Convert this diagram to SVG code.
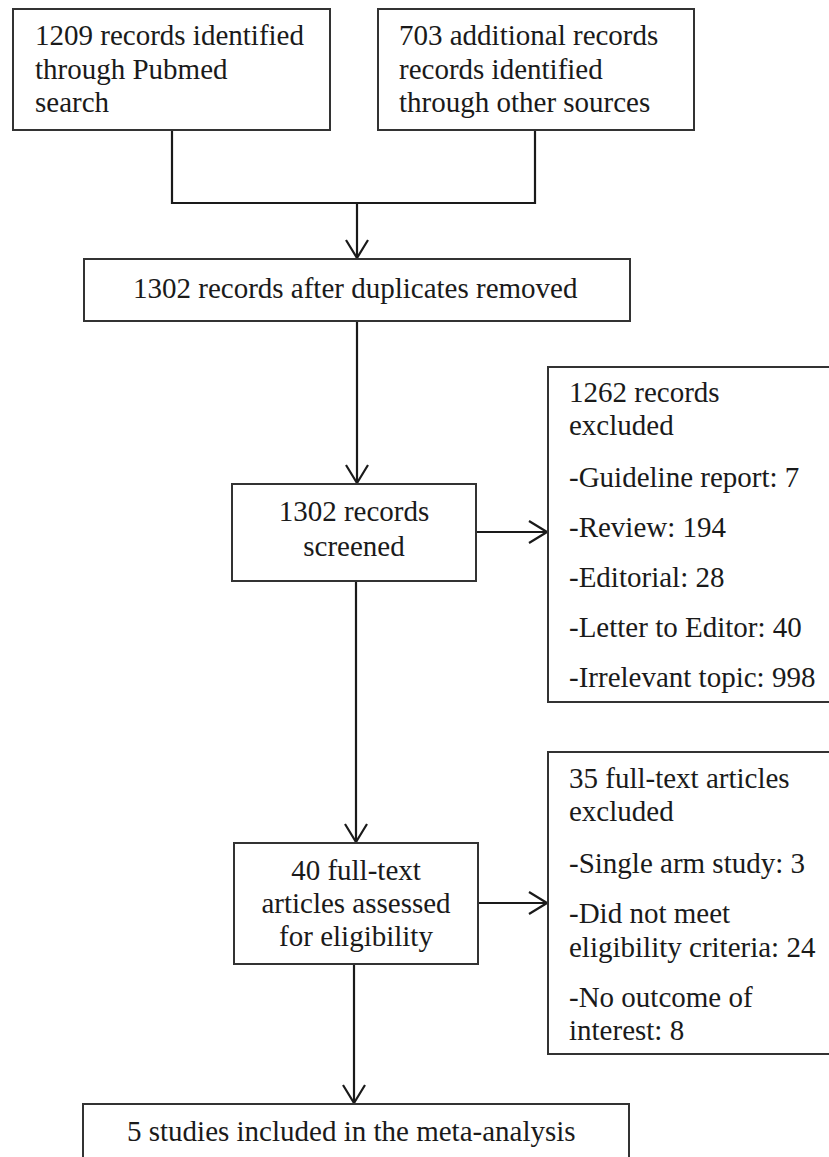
<svg xmlns="http://www.w3.org/2000/svg" width="829" height="1157" viewBox="0 0 829 1157">
<style>
.box{fill:#fff;stroke:#333;stroke-width:2}
.t{font-family:"Liberation Serif","Times New Roman",serif;font-size:29px;fill:#1a1a1a}
.c{text-anchor:middle}
.ln{fill:none;stroke:#1a1a1a;stroke-width:2.2}
</style>
<defs>
<marker id="ah" viewBox="0 0 20 24" refX="19" refY="12" markerWidth="20" markerHeight="24" markerUnits="userSpaceOnUse" orient="auto">
<path d="M1,1 L19,12 L1,23" fill="none" stroke="#1a1a1a" stroke-width="2.2"/>
</marker>
</defs>
<rect width="829" height="1157" fill="#fff"/>
<g id="connectors">
<path class="ln" d="M172,130 V203 H535 V130"/>
<path class="ln" d="M357,203 V258" marker-end="url(#ah)"/>
<path class="ln" d="M357,321 V483" marker-end="url(#ah)"/>
<path class="ln" d="M476,532 H547" marker-end="url(#ah)"/>
<path class="ln" d="M356,581 V842" marker-end="url(#ah)"/>
<path class="ln" d="M478,903 H547" marker-end="url(#ah)"/>
<path class="ln" d="M354,964 V1103" marker-end="url(#ah)"/>
</g>
<g id="pubmed">
<rect class="box" x="13" y="9" width="317" height="121"/>
<text class="t" x="35" y="45">1209 records identified</text>
<text class="t" x="35" y="79">through Pubmed</text>
<text class="t" x="35" y="112">search</text>
</g>
<g id="other">
<rect class="box" x="378" y="9" width="316" height="121"/>
<text class="t" x="399" y="45">703 additional records</text>
<text class="t" x="399" y="79">records identified</text>
<text class="t" x="399" y="112">through other sources</text>
</g>
<g id="dedup">
<rect class="box" x="84" y="259" width="546" height="62"/>
<text class="t" x="133" y="298">1302 records after duplicates removed</text>
</g>
<g id="screened">
<rect class="box" x="232" y="484" width="244" height="97"/>
<text class="t c" x="354" y="521">1302 records</text>
<text class="t c" x="354" y="556">screened</text>
</g>
<g id="excluded1">
<rect class="box" x="548" y="367" width="290" height="335"/>
<text class="t" x="569" y="402">1262 records</text>
<text class="t" x="569" y="435">excluded</text>
<text class="t" x="569" y="487">-Guideline report: 7</text>
<text class="t" x="569" y="537">-Review: 194</text>
<text class="t" x="569" y="587">-Editorial: 28</text>
<text class="t" x="569" y="637">-Letter to Editor: 40</text>
<text class="t" x="569" y="687">-Irrelevant topic: 998</text>
</g>
<g id="fulltext">
<rect class="box" x="234" y="843" width="244" height="121"/>
<text class="t c" x="356" y="880">40 full-text</text>
<text class="t c" x="356" y="913">articles assessed</text>
<text class="t c" x="356" y="946">for eligibility</text>
</g>
<g id="excluded2">
<rect class="box" x="548" y="752" width="290" height="302"/>
<text class="t" x="569" y="788">35 full-text articles</text>
<text class="t" x="569" y="821">excluded</text>
<text class="t" x="569" y="873">-Single arm study: 3</text>
<text class="t" x="569" y="923">-Did not meet</text>
<text class="t" x="569" y="957">eligibility criteria: 24</text>
<text class="t" x="569" y="1007">-No outcome of</text>
<text class="t" x="569" y="1040">interest: 8</text>
</g>
<g id="included">
<rect class="box" x="83" y="1104" width="546" height="70"/>
<text class="t" x="127" y="1141">5 studies included in the meta-analysis</text>
</g>
</svg>
